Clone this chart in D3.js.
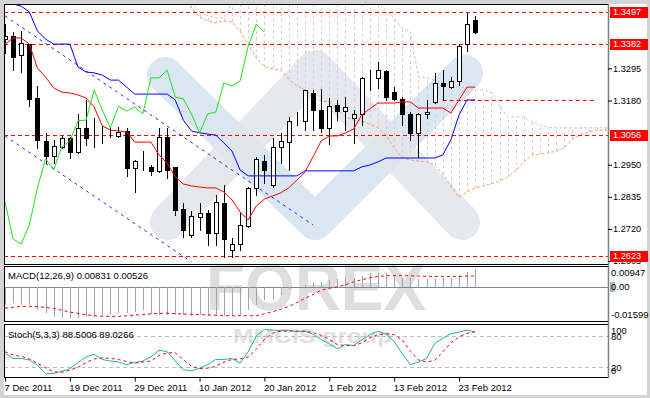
<!DOCTYPE html>
<html>
<head>
<meta charset="utf-8">
<script src="https://cdn.jsdelivr.net/npm/d3@7"></script>
<style>
  html, body { margin: 0; padding: 0; background: #fff; }
  svg { display: block; font-family: "Liberation Sans", Arial, sans-serif; }
</style>
</head>
<body>
<div id="chart"></div>
<script>
// Daily candles, 7 Dec 2011 .. 27 Feb 2012
const opens  = [1.3400,1.3411,1.3343,1.3382,1.3189,1.3035,1.2981,1.3013,1.3046,1.2996,
                1.3082,1.3049,1.3056,1.3060,1.3053,1.3071,1.2938,1.2962,1.2942,1.2928,
                1.3050,1.2942,1.2791,1.2698,1.2763,1.2777,1.2706,1.2813,1.2645,1.2666,
                1.2730,1.2867,1.2963,1.2877,1.3013,1.3031,1.3109,1.3107,1.3207,1.3146,
                1.3082,1.3164,1.3142,1.3117,1.3132,1.3260,1.3261,1.3286,1.3210,1.3185,
                1.3132,1.3064,1.3132,1.3175,1.3243,1.3228,1.3250,1.3382,1.3468];
const highs  = [1.3454,1.3425,1.3429,1.3382,1.3232,1.3064,1.3039,1.3053,1.3050,1.3132,
                1.3182,1.3117,1.3089,1.3086,1.3086,1.3082,1.2967,1.2999,1.2949,1.3082,
                1.3082,1.2942,1.2813,1.2784,1.2813,1.2788,1.2842,1.2877,1.2688,1.2777,
                1.2870,1.2978,1.2985,1.3046,1.3064,1.3121,1.3139,1.3218,1.3218,1.3221,
                1.3189,1.3182,1.3193,1.3146,1.3264,1.3289,1.3318,1.3289,1.3228,1.3193,
                1.3139,1.3135,1.3182,1.3279,1.3289,1.3264,1.3382,1.3493,1.3483];
const lows   = [1.3350,1.3289,1.3282,1.3160,1.3010,1.2956,1.2956,1.3010,1.2974,1.2992,
                1.3021,1.3013,1.3028,1.3050,1.3050,1.2910,1.2852,1.2931,1.2913,1.2924,
                1.2902,1.2770,1.2691,1.2691,1.2716,1.2663,1.2663,1.2619,1.2619,1.2645,
                1.2727,1.2842,1.2885,1.2870,1.2956,1.2931,1.3092,1.3074,1.3074,1.3067,
                1.3024,1.3110,1.3074,1.3028,1.3092,1.3218,1.3225,1.3182,1.3182,1.3092,
                1.3039,1.2978,1.3117,1.3171,1.3182,1.3225,1.3236,1.3357,1.3422];
const closes = [1.3411,1.3336,1.3386,1.3185,1.3039,1.2981,1.3017,1.3046,1.2996,1.3082,
                1.3046,1.3050,1.3057,1.3061,1.3067,1.2938,1.2963,1.2963,1.2928,1.3050,
                1.2931,1.2788,1.2716,1.2766,1.2777,1.2706,1.2817,1.2684,1.2666,1.2734,
                1.2867,1.2971,1.2931,1.3013,1.3035,1.3107,1.3110,1.3218,1.3146,1.3082,
                1.3160,1.3142,1.3157,1.3132,1.3261,1.3261,1.3289,1.3193,1.3185,1.3132,
                1.3064,1.3132,1.3139,1.3243,1.3232,1.3250,1.3375,1.3454,1.3425];

const dateTicks  = [0, 8, 16, 24, 32, 40, 48, 56];
const dateLabels = ["7 Dec 2011", "19 Dec 2011", "29 Dec 2011", "10 Jan 2012",
                    "20 Jan 2012", "1 Feb 2012", "13 Feb 2012", "23 Feb 2012"];

// Ichimoku lines
const tenkan = [1.3382,1.3404,1.3404,1.3382,1.3296,1.3264,1.3225,1.3210,1.3207,1.3200,
                1.3189,1.3157,1.3089,1.3074,1.3071,1.3067,1.3031,1.3031,1.3031,1.2985,
                1.2956,1.2906,1.2881,1.2874,1.2870,1.2867,1.2867,1.2852,1.2824,1.2781,
                1.2752,1.2802,1.2827,1.2838,1.2849,1.2867,1.2895,1.2924,1.2978,1.3035,
                1.3053,1.3053,1.3064,1.3078,1.3128,1.3150,1.3171,1.3171,1.3171,1.3175,
                1.3175,1.3153,1.3153,1.3153,1.3153,1.3135,1.3182,1.3228,1.3228];
const kijun  = [1.3533,1.3526,1.3518,1.3497,1.3429,1.3400,1.3382,1.3382,1.3382,1.3300,
                1.3282,1.3279,1.3271,1.3253,1.3253,1.3228,1.3203,1.3203,1.3203,1.3203,
                1.3203,1.3182,1.3110,1.3071,1.3064,1.3060,1.3056,1.3028,1.2999,1.2931,
                1.2910,1.2910,1.2910,1.2910,1.2910,1.2910,1.2910,1.2928,1.2928,1.2928,
                1.2928,1.2928,1.2928,1.2928,1.2942,1.2949,1.2960,1.2974,1.2974,1.2974,
                1.2974,1.2974,1.2974,1.2974,1.2985,1.3039,1.3128,1.3182,1.3182];
const chikouShift = 26;
const spanStart = 20;  // first bar of the cloud arrays
const spanA = [1.3576,1.3576,1.3540,1.3511,1.3479,1.3465,1.3458,1.3465,1.3461,1.3429,
               1.3379,1.3332,1.3300,1.3293,1.3289,1.3257,1.3232,1.3218,1.3193,1.3178,
               1.3175,1.3150,1.3121,1.3110,1.3107,1.3096,1.3082,1.3056,1.3010,1.2974,
               1.2967,1.2963,1.2960,1.2949,1.2917,1.2874,1.2834,1.2852,1.2867,1.2874,
               1.2881,1.2892,1.2906,1.2928,1.2960,1.2985,1.2988,1.2992,1.2999,1.3010,
               1.3042,1.3056,1.3067,1.3074,1.3074,1.3074];
const spanB = [1.3576,1.3576,1.3576,1.3533,1.3497,1.3483,1.3476,1.3476,1.3529,1.3529,
               1.3529,1.3529,1.3529,1.3529,1.3529,1.3529,1.3529,1.3529,1.3529,1.3529,
               1.3529,1.3529,1.3529,1.3529,1.3529,1.3529,1.3529,1.3504,1.3476,1.3440,
               1.3425,1.3264,1.3261,1.3253,1.3243,1.3236,1.3228,1.3225,1.3218,1.3218,
               1.3210,1.3160,1.3121,1.3121,1.3121,1.3103,1.3092,1.3085,1.3082,1.3082,
               1.3082,1.3082,1.3082,1.3082,1.3082,1.3082];

// MACD(12,26,9)
const macdMain = [-0.0084,-0.0076,-0.0083,-0.0083,-0.0106,-0.0121,-0.0139,-0.0146,-0.0146,-0.0146,
                  -0.0140,-0.0140,-0.0132,-0.0132,-0.0124,-0.0124,-0.0118,-0.0110,-0.0128,-0.0130,
                  -0.0132,-0.0130,-0.0133,-0.0136,-0.0132,-0.0134,-0.0132,-0.0134,-0.0138,-0.0132,
                  -0.0107,-0.0084,-0.0060,-0.0060,-0.0036,-0.0010,0.0002,0.0011,0.0019,0.0026,
                  0.0034,0.0039,0.0045,0.0045,0.0053,0.0066,0.0066,0.0066,0.0058,0.0045,
                  0.0045,0.0039,0.0039,0.0039,0.0045,0.0045,0.0058,0.0070,0.00831];
const macdSignal = [-0.0099,-0.0095,-0.0091,-0.0091,-0.0092,-0.0096,-0.0101,-0.0109,-0.0118,-0.0124,
                    -0.0131,-0.0135,-0.0138,-0.0138,-0.0138,-0.0135,-0.0132,-0.0130,-0.0126,-0.0124,
                    -0.0123,-0.0125,-0.0127,-0.0128,-0.0130,-0.0131,-0.0133,-0.0134,-0.0135,-0.0135,
                    -0.0135,-0.0135,-0.0126,-0.0116,-0.0105,-0.0091,-0.0073,-0.0053,-0.0035,-0.0014,
                    -0.0006,0.0002,0.0011,0.0025,0.0034,0.0044,0.0050,0.0053,0.0055,0.0054,
                    0.0053,0.0052,0.0051,0.0050,0.0050,0.0050,0.0050,0.0052,0.00526];
const macdTitle = ["MACD(12,26,9)", "0.00831", "0.00526"];
const macdTicks = [0.00947, 0, -0.01599];
const macdTickLabels = ["0.00947", "0.00", "-0.01599"];

// Stochastic(5,3,3)
const stochMain = [47,37,37,34,24,7,8,12,17,29,
                   40,45,35,32,30,25,29,32,40,53,
                   50,32,15,13,18,25,35,35,37,28,
                   50,81,93,92,91,92,89,90,84,74,
                   65,56,64,62,73,83,90,84,70,46,
                   25,30,37,66,76,85,88,92,88.5];
const stochSignal = [50,44,41,36,28,19,11,10,14,20,
                     29,36,38,37,35,31,28,30,32,43,
                     48,48,35,22,17,18,22,30,35,36,
                     40,55,74,86,90,90,90,90,87,82,
                     74,64,62,62,67,77,83,85,83,73,
                     51,34,30,33,50,67,79,86,89];
const stochTitle = ["Stoch(5,3,3)", "88.5006", "89.0266"];
const stochTicks = [100, 80, 20, 0];
const stochLevels = [80, 20];

// price axis
const priceTicks = [1.3295, 1.3180, 1.2950, 1.2835, 1.2720, 1.2605];
const priceMarks = [1.3497, 1.3382, 1.3056, 1.2623];
const partialMark = { from: 54, to: 73, price: 1.3180 };
// hand-drawn channel: [bar, price] end points
const channel = [[[0, 1.3483], [38, 1.2734]], [[0, 1.3053], [23, 1.2602]]];

const W = 650, H = 398;
const left = 4, axisX = 608;

const svg = d3.select("#chart").append("svg")
    .attr("width", W)
    .attr("height", H);

svg.append("rect").attr("width", W).attr("height", H).attr("fill", "#d4d4d4");
svg.append("rect").attr("x", left).attr("y", 4).attr("width", 643).attr("height", 391).attr("fill", "#fff");

const x = d3.scaleLinear().domain([0, 58]).range([5, 475.2]);
const yMain = d3.scaleLinear().domain([1.2623, 1.3497]).range([256, 12]);
const yMacd = d3.scaleLinear().domain([-0.01599, 0.00947]).range([321, 267]);
const yStoch = d3.scaleLinear().domain([0, 100]).range([377.5, 326]);

const defs = svg.append("defs");
function clip(id, y0, y1) {
  defs.append("clipPath").attr("id", id)
    .append("rect").attr("x", left + 1).attr("y", y0).attr("width", axisX - left - 1).attr("height", y1 - y0);
  return `url(#${id})`;
}
const mainClip = clip("cMain", 5, 264);
const macdClip = clip("cMacd", 267, 321);
const stochClip = clip("cStoch", 325, 377);

// watermark
const wm = svg.append("g");
wm.append("path")
    .attr("d", "M165,75 L315,222 L465,73")
    .attr("fill", "none").attr("stroke", "#dae6f1").attr("stroke-width", 36)
    .attr("stroke-linecap", "round").attr("stroke-linejoin", "round");
wm.append("path")
    .attr("d", "M168,222 L315,68 L462,222")
    .attr("fill", "none").attr("stroke", "#e1e4eb").attr("stroke-width", 36)
    .attr("stroke-linecap", "round").attr("stroke-linejoin", "round")
    .attr("opacity", 0.85);
wm.append("text")
    .attr("x", 206).attr("y", 310)
    .attr("font-size", 66).attr("font-weight", "bold")
    .attr("textLength", 220).attr("lengthAdjust", "spacingAndGlyphs")
    .attr("fill", "#dedede")
    .text("FOREX");
wm.append("text")
    .attr("x", 233).attr("y", 343)
    .attr("font-size", 21).attr("font-weight", "bold")
    .attr("textLength", 159).attr("lengthAdjust", "spacingAndGlyphs")
    .attr("fill", "#e0e0e0")
    .text("MMCIS group");

// ---- main panel ----
const main = svg.append("g").attr("clip-path", mainClip);
const px = i => Math.round(x(i)) + 0.5;

// cloud hatch
const cloud = spanA.map((a, k) => ({ i: spanStart + k, a, b: spanB[k] }));
main.append("g").selectAll("line")
  .data(cloud.filter(d => x(d.i) < axisX))
  .join("line")
    .attr("x1", d => px(d.i)).attr("x2", d => px(d.i))
    .attr("y1", d => yMain(d.a)).attr("y2", d => yMain(d.b))
    .attr("stroke", "#dccbdc").attr("stroke-dasharray", "3,3");

const mLine = d3.line().x(d => x(d.i)).y(d => yMain(d.v));
main.append("path")
    .attr("d", mLine(cloud.map(d => ({ i: d.i, v: d.b }))))
    .attr("fill", "none").attr("stroke", "#d8bfd8").attr("stroke-dasharray", "3,2");
main.append("path")
    .attr("d", mLine(cloud.map(d => ({ i: d.i, v: d.a }))))
    .attr("fill", "none").attr("stroke", "#f4a460").attr("stroke-dasharray", "3,2");

// horizontal price marks
main.append("g").selectAll("line")
  .data(priceMarks)
  .join("line")
    .attr("x1", left).attr("x2", axisX)
    .attr("y1", d => Math.round(yMain(d)) + 0.5).attr("y2", d => Math.round(yMain(d)) + 0.5)
    .attr("stroke", "#ff0000").attr("stroke-dasharray", "4,3");
main.append("line")
    .attr("x1", x(partialMark.from)).attr("x2", x(partialMark.to))
    .attr("y1", Math.round(yMain(partialMark.price)) + 0.5)
    .attr("y2", Math.round(yMain(partialMark.price)) + 0.5)
    .attr("stroke", "#ff0000").attr("stroke-dasharray", "4,3");

// channel
main.append("g").selectAll("line")
  .data(channel)
  .join("line")
    .attr("x1", d => x(d[0][0])).attr("y1", d => yMain(d[0][1]))
    .attr("x2", d => x(d[1][0])).attr("y2", d => yMain(d[1][1]))
    .attr("stroke", "#2a2ae8").attr("stroke-dasharray", "3,4");

// candles
const bars = closes.map((c, i) => ({ i, o: opens[i], h: highs[i], l: lows[i], c }));
const cg = main.append("g").attr("shape-rendering", "crispEdges");
cg.selectAll("line")
  .data(bars)
  .join("line")
    .attr("x1", d => px(d.i)).attr("x2", d => px(d.i))
    .attr("y1", d => Math.round(yMain(d.h))).attr("y2", d => Math.round(yMain(d.l)) + 1)
    .attr("stroke", "#000");
cg.selectAll("rect")
  .data(bars)
  .join("rect")
    .attr("x", d => px(d.i) - 2)
    .attr("width", 4)
    .attr("y", d => Math.round(yMain(Math.max(d.o, d.c))) + 0.5)
    .attr("height", d => Math.max(0, Math.round(yMain(Math.min(d.o, d.c))) - Math.round(yMain(Math.max(d.o, d.c)))))
    .attr("fill", d => d.c >= d.o ? "#fff" : "#000")
    .attr("stroke", "#000");

// tenkan / kijun / chikou
const seq = arr => arr.map((v, i) => ({ i, v }));
main.append("path").attr("d", mLine(seq(kijun)))
    .attr("fill", "none").attr("stroke", "#0000ff");
main.append("path").attr("d", mLine(seq(tenkan)))
    .attr("fill", "none").attr("stroke", "#ff0000");
main.append("path").attr("d", mLine(seq(closes.slice(chikouShift))))
    .attr("fill", "none").attr("stroke", "#1fe01f");

// ---- MACD panel ----
const macd = svg.append("g").attr("clip-path", macdClip);
macd.append("line")
    .attr("x1", left).attr("x2", axisX)
    .attr("y1", Math.round(yMacd(0)) + 0.5).attr("y2", Math.round(yMacd(0)) + 0.5)
    .attr("stroke", "#7d8896");
macd.append("g").attr("shape-rendering", "crispEdges").selectAll("line")
  .data(seq(macdMain))
  .join("line")
    .attr("x1", d => px(d.i)).attr("x2", d => px(d.i))
    .attr("y1", yMacd(0)).attr("y2", d => yMacd(d.v))
    .attr("stroke", "#a2a2a8");
macd.append("path")
    .attr("d", d3.line().x(d => x(d.i)).y(d => yMacd(d.v))(seq(macdSignal)))
    .attr("fill", "none").attr("stroke", "#ff0000").attr("stroke-dasharray", "3,3");

// ---- Stochastic panel ----
const st = svg.append("g").attr("clip-path", stochClip);
st.append("g").selectAll("line")
  .data(stochLevels)
  .join("line")
    .attr("x1", left).attr("x2", axisX)
    .attr("y1", d => Math.round(yStoch(d)) + 0.5).attr("y2", d => Math.round(yStoch(d)) + 0.5)
    .attr("stroke", "#bdbdbd").attr("stroke-dasharray", "4,3");
const sLine = d3.line().x(d => x(d.i)).y(d => yStoch(d.v));
st.append("path").attr("d", sLine(seq(stochMain)))
    .attr("fill", "none").attr("stroke", "#20b2aa");
st.append("path").attr("d", sLine(seq(stochSignal)))
    .attr("fill", "none").attr("stroke", "#ff0000").attr("stroke-dasharray", "3,3");

// ---- frames ----
const frames = svg.append("g").attr("shape-rendering", "crispEdges")
    .attr("fill", "none").attr("stroke", "#000");
[[4, 264], [266, 321], [324, 377]].forEach(([a, b]) => {
  frames.append("rect").attr("x", left + 0.5).attr("y", a + 0.5)
      .attr("width", axisX - left - 0.5).attr("height", b - a);
});
svg.append("line").attr("x1", axisX + 0.5).attr("x2", axisX + 0.5).attr("y1", 4).attr("y2", 378)
    .attr("stroke", "#77818c").attr("stroke-width", 1.5);

// ---- axes ----
const fontSize = 9.5;
const priceAxis = svg.append("g")
    .attr("transform", `translate(${axisX},0)`)
    .call(d3.axisRight(yMain).tickValues(priceTicks).tickSize(4).tickPadding(1)
      .tickFormat(d3.format(".4f")));
priceAxis.select(".domain").remove();
priceAxis.selectAll("text").attr("font-size", 9.2).attr("fill", "#000").attr("font-family", null);
priceAxis.selectAll("line").attr("stroke", "#000");

const markG = svg.append("g").selectAll("g")
  .data(priceMarks)
  .join("g")
    .attr("transform", d => `translate(610,${Math.round(yMain(d))})`);
markG.append("rect").attr("x", 0).attr("y", -5).attr("width", 38).attr("height", 11).attr("fill", "#ff0000");
markG.append("text").attr("x", 3).attr("y", 0).attr("dy", "0.35em")
    .attr("font-size", 9.2).attr("fill", "#fff")
    .text(d => d3.format(".4f")(d));

// MACD scale
svg.append("rect").attr("x", 610).attr("y", 282).attr("width", 5).attr("height", 10).attr("fill", "#a9b4c0");
svg.append("g").selectAll("text")
  .data(macdTicks)
  .join("text")
    .attr("x", 611)
    .attr("y", d => Math.min(315, Math.max(273, yMacd(d))))
    .attr("dy", "0.35em")
    .attr("font-size", fontSize)
    .text((d, i) => macdTickLabels[i]);

// Stoch scale
svg.append("g").selectAll("text")
  .data(stochTicks)
  .join("text")
    .attr("x", 611)
    .attr("y", d => Math.min(371, Math.max(331, yStoch(d))))
    .attr("dy", "0.35em")
    .attr("font-size", fontSize)
    .text(d => d);

// titles
svg.append("text").attr("x", 8).attr("y", 279).attr("font-size", fontSize)
    .text(macdTitle.join(" "));
svg.append("text").attr("x", 8).attr("y", 338).attr("font-size", fontSize)
    .text(stochTitle.join(" "));

// date axis
const dateAxis = svg.append("g")
    .attr("transform", "translate(0,377.5)")
    .call(d3.axisBottom(x).tickValues(dateTicks).tickSize(4)
      .tickFormat((d, i) => dateLabels[i]));
dateAxis.select(".domain").remove();
dateAxis.selectAll("line").attr("stroke", "#000");
dateAxis.selectAll("text")
    .attr("text-anchor", "start").attr("x", -1).attr("y", 13).attr("dy", 0)
    .attr("font-size", fontSize).attr("font-family", null).attr("fill", "#000");
</script>
</body>
</html>
